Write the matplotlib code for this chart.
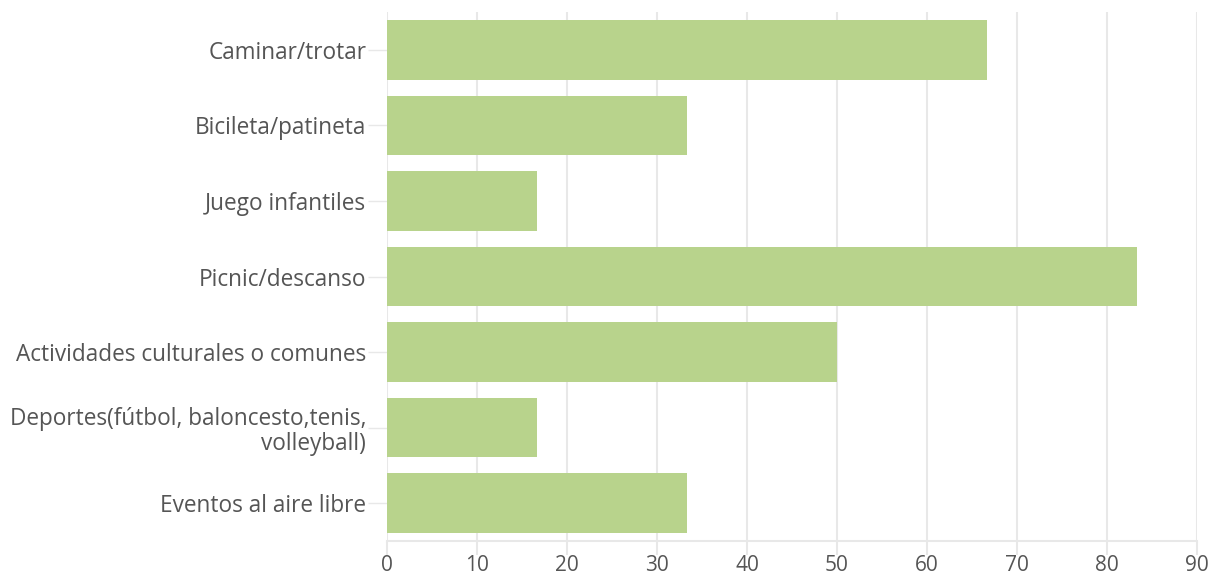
import matplotlib
matplotlib.use("Agg")
import matplotlib.pyplot as plt

categories = [
    "Caminar/trotar",
    "Bicileta/patineta",
    "Juego infantiles",
    "Picnic/descanso",
    "Actividades culturales o comunes",
    "Deportes(fútbol, baloncesto,tenis,\nvolleyball)",
    "Eventos al aire libre",
]
values = [66.7, 33.3, 16.7, 83.3, 50.0, 16.7, 33.3]
xticks = [0, 10, 20, 30, 40, 50, 60, 70, 80, 90]

plt.rcParams["font.family"] = ["Open Sans", "DejaVu Sans"]

fig = plt.figure(figsize=(12.22, 5.78), dpi=100)
ax = fig.add_axes([387 / 1222, 37 / 578, 810 / 1222, 529 / 578])

grid_c = "#e8e8e8"
text_c = "#555555"

ax.barh(range(len(categories)), values, height=0.79, color="#b8d38c", zorder=2)
ax.set_ylim(len(categories) - 0.5, -0.5)
ax.set_xlim(0, 90)
ax.set_xticks(xticks)
ax.set_yticks(range(len(categories)))
ax.set_yticklabels(categories, fontsize=16.3, color=text_c, linespacing=1.05)
ax.set_xticklabels([str(t) for t in xticks], fontsize=15, color=text_c)

ax.xaxis.grid(True, color=grid_c, linewidth=1.5, zorder=0)
for s in ["top", "right", "left"]:
    ax.spines[s].set_visible(False)
ax.spines["bottom"].set_color(grid_c)
ax.spines["bottom"].set_linewidth(1.5)
ax.tick_params(axis="x", length=10, width=1.5, color=grid_c, pad=0)
ax.tick_params(axis="y", length=14, width=1.0, color=grid_c, pad=1)

fig.savefig("out.png", dpi=100, facecolor="white")
